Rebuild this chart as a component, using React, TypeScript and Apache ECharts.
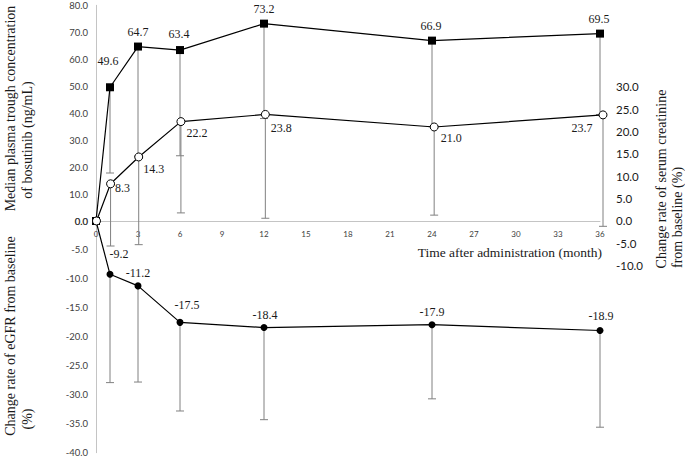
import React, { useEffect, useRef } from 'react';
import * as echarts from 'echarts';

// months after administration
const months = [0, 1, 3, 6, 12, 24, 36];

// median plasma trough concentration of bosutinib (ng/mL), lower whisker
const troughConc = [0, 49.6, 64.7, 63.4, 73.2, 66.9, 69.5];
const troughLow = [null, 17.8, 24.0, 24.2, 38.0, 35.0, 39.5];

// change rate of serum creatinine (%), lower whisker
const creatinine = [0, 8.3, 14.3, 22.2, 23.8, 21.0, 23.7];
const creatinineLow = [null, -5.6, -5.3, 1.8, 0.6, 1.3, -1.2];

// change rate of eGFR (%), lower whisker
const egfr = [0, -9.2, -11.2, -17.5, -18.4, -17.9, -18.9];
const egfrLow = [null, -27.9, -27.8, -32.8, -34.3, -30.7, -35.6];

// where each value label sits relative to its marker (px)
const troughLabelOffset = [null, [-2, -26], [0, -15], [-1, -16], [0, -15], [-1, -15], [-1, -15]];
const creatLabelOffset = [null, [12, 4], [15, 12], [16, 11], [16, 14], [17, 11], [-21, 13]];
const egfrLabelOffset = [null, [9, -20], [0, -13], [7, -17], [1, -13], [0, -13], [1, -14]];

const SERIF = 'Liberation Serif';
const SANS = 'Lato';
const AXIS_GRAY = '#c4c4c4';
const BAR_GRAY = '#808080';

const errorBar = (params: any, api: any) => {
    const x = api.value(0);
    const top = api.coord([x, api.value(1)]);
    const bottom = api.coord([x, api.value(2)]);
    const cap = 4;
    const style = { stroke: BAR_GRAY, lineWidth: 1 };
    return {
        type: 'group',
        children: [
            { type: 'line', shape: { x1: top[0], y1: top[1], x2: bottom[0], y2: bottom[1] }, style },
            { type: 'line', shape: { x1: bottom[0] - cap, y1: bottom[1], x2: bottom[0] + cap, y2: bottom[1] }, style },
        ],
    };
};

const barData = (vals: number[], lows: (number | null)[]) =>
    months.map((m, i) => [m, vals[i], lows[i]]).filter((d) => d[2] !== null);

const lineData = (vals: number[], offsets: (number[] | null)[]) =>
    months.map((m, i) => ({
        value: [m, vals[i]],
        label: offsets[i]
            ? { show: true, position: 'inside', offset: offsets[i] }
            : { show: false },
    }));

const valueLabel = {
    show: true,
    fontFamily: SERIF,
    fontSize: 12,
    color: '#1a1a1a',
    formatter: (p: any) => p.value[1].toFixed(1),
};

const titleText = (text: string, x: number, y: number, rotated: boolean, align = 'center') => ({
    type: 'text',
    x,
    y,
    rotation: rotated ? Math.PI / 2 : 0,
    style: {
        text,
        fontFamily: SERIF,
        fontSize: rotated ? 14 : 13.5,
        fill: '#1a1a1a',
        textAlign: align,
        textVerticalAlign: 'middle',
    },
});

const App = () => {
    const chartRef = useRef<HTMLDivElement>(null);

    useEffect(() => {
        if (!chartRef.current) return;
        const chart = echarts.init(chartRef.current, undefined, { renderer: 'svg' });

        const leftAxisBase = {
            type: 'value',
            axisLine: { show: true, lineStyle: { color: AXIS_GRAY, width: 1 } },
            axisTick: { show: false },
            splitLine: { show: false },
            axisLabel: {
                fontFamily: SANS,
                fontSize: 9.5,
                color: '#404040',
                margin: 8,
                formatter: (v: number) => v.toFixed(1),
            },
        };

        const option = {
            animation: false,
            backgroundColor: '#fff',
            grid: [
                { left: 96, top: 5.3, width: 504, height: 215.7 },
                { left: 96, top: 221, width: 504, height: 231.7 },
                { left: 96.5, top: 86.7, width: 506.5, height: 179 },
            ],
            xAxis: [
                {
                    gridIndex: 0,
                    type: 'value',
                    min: 0,
                    max: 36,
                    interval: 3,
                    axisLine: { lineStyle: { color: AXIS_GRAY, width: 1 } },
                    axisTick: { show: false },
                    splitLine: { show: false },
                    axisLabel: { fontFamily: SANS, fontSize: 8, color: '#404040', margin: 9 },
                },
                { gridIndex: 1, type: 'value', min: 0, max: 36, show: false },
                { gridIndex: 2, type: 'value', min: 0, max: 36, show: false },
            ],
            yAxis: [
                { ...leftAxisBase, gridIndex: 0, min: 0, max: 80, interval: 10 },
                { ...leftAxisBase, gridIndex: 1, min: -40, max: 0, interval: 5 },
                {
                    gridIndex: 2,
                    type: 'value',
                    position: 'right',
                    min: -10,
                    max: 30,
                    interval: 5,
                    axisLine: { show: false },
                    axisTick: { show: false },
                    splitLine: { show: false },
                    axisLabel: {
                        fontFamily: SANS,
                        fontSize: 11.5,
                        color: '#1a1a1a',
                        margin: 13,
                        formatter: (v: number) => v.toFixed(1),
                    },
                },
            ],
            series: [
                {
                    type: 'custom',
                    xAxisIndex: 0,
                    yAxisIndex: 0,
                    renderItem: errorBar,
                    data: barData(troughConc, troughLow),
                    z: 1,
                    silent: true,
                },
                {
                    type: 'custom',
                    xAxisIndex: 2,
                    yAxisIndex: 2,
                    renderItem: errorBar,
                    data: barData(creatinine, creatinineLow),
                    z: 1,
                    silent: true,
                },
                {
                    type: 'custom',
                    xAxisIndex: 1,
                    yAxisIndex: 1,
                    renderItem: errorBar,
                    data: barData(egfr, egfrLow),
                    z: 1,
                    silent: true,
                },
                {
                    name: 'Trough concentration',
                    type: 'line',
                    xAxisIndex: 0,
                    yAxisIndex: 0,
                    symbol: 'rect',
                    symbolSize: 8,
                    itemStyle: { color: '#000' },
                    lineStyle: { color: '#000', width: 1.2 },
                    label: valueLabel,
                    data: lineData(troughConc, troughLabelOffset),
                    z: 3,
                },
                {
                    name: 'Serum creatinine',
                    type: 'line',
                    xAxisIndex: 2,
                    yAxisIndex: 2,
                    symbol: 'circle',
                    symbolSize: 8,
                    showAllSymbol: true,
                    itemStyle: { color: '#fff', borderColor: '#000', borderWidth: 1 },
                    lineStyle: { color: '#000', width: 1.2 },
                    label: valueLabel,
                    data: lineData(creatinine, creatLabelOffset),
                    z: 4,
                },
                {
                    name: 'eGFR',
                    type: 'line',
                    xAxisIndex: 1,
                    yAxisIndex: 1,
                    symbol: 'circle',
                    symbolSize: 7,
                    itemStyle: { color: '#000' },
                    lineStyle: { color: '#000', width: 1.2 },
                    label: valueLabel,
                    data: lineData(egfr, egfrLabelOffset),
                    z: 3,
                },
            ],
            graphic: [
                titleText('Median plasma trough concentration', 10, 108.5, true),
                titleText('of bosutinib (ng/mL)', 27, 140, true),
                titleText('Change rate of eGFR from baseline', 10, 336, true),
                titleText('(%)', 27, 419, true),
                titleText('Change rate of serum creatinine', 661, 179, true),
                titleText('from baseline (%)', 677, 217.5, true),
                titleText('Time after administration (month)', 602, 252, false, 'right'),
            ],
        };

        chart.setOption(option);
        return () => {
            chart.dispose();
        };
    }, []);

    return (
        <div
            ref={chartRef}
            style={{ position: 'absolute', left: 0, top: 0, width: '685px', height: '459px' }}
        />
    );
};

export default App;
